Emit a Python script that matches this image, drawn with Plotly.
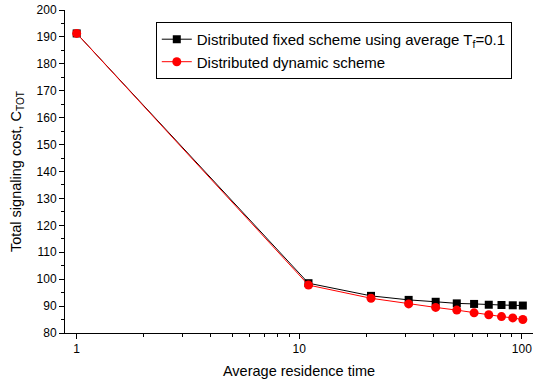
import plotly.graph_objects as go

x_vals = [1, 11, 21, 31, 41, 51, 61, 71, 81, 91, 101]
fixed_scheme = [191.3, 98.5, 93.8, 92.3, 91.6, 91.0, 90.8, 90.5, 90.4, 90.3, 90.2]
dynamic_scheme = [191.3, 97.8, 92.9, 90.8, 89.5, 88.5, 87.5, 86.8, 86.1, 85.6, 85.0]

fig = go.Figure()
fig.add_trace(go.Scatter(
    x=x_vals, y=fixed_scheme, mode="lines+markers",
    name="Distributed fixed scheme using average T<sub>f</sub>=0.1",
    line=dict(color="black", width=1),
    marker=dict(symbol="square", size=8, color="black"),
))
fig.add_trace(go.Scatter(
    x=x_vals, y=dynamic_scheme, mode="lines+markers",
    name="Distributed dynamic scheme",
    line=dict(color="red", width=1),
    marker=dict(symbol="circle", size=9, color="red"),
))

font_family = "Liberation Sans, Arial, sans-serif"
fig.update_layout(
    width=543, height=385,
    margin=dict(l=65, r=10, t=10, b=52),
    paper_bgcolor="white", plot_bgcolor="white",
    font=dict(family=font_family, size=12, color="black"),
    showlegend=True,
    legend=dict(
        x=0.194, y=0.963, xanchor="left", yanchor="top",
        bordercolor="black", borderwidth=1, bgcolor="white",
        font=dict(size=15), tracegroupgap=0, itemwidth=30,
    ),
)
fig.update_xaxes(
    type="log", range=[-0.0525, 2.05], automargin=False,
    title=dict(text="Average residence time", font=dict(size=14.5), standoff=10),
    showline=True, linecolor="black", linewidth=1,
    ticks="outside", ticklen=5, tickcolor="black",
    tickvals=[1, 10, 100], ticktext=["1", "10", "100"],
    showgrid=False, zeroline=False, mirror=False,
    minor=dict(ticks="outside", ticklen=3, tickcolor="black",
               tickvals=[2, 3, 4, 5, 6, 7, 8, 9, 20, 30, 40, 50, 60, 70, 80, 90],
               showgrid=False),
)
fig.update_yaxes(
    range=[80, 200], automargin=False,
    title=dict(text="Total signaling cost, C<sub>TOT</sub>", font=dict(size=14.5), standoff=11),
    showline=True, linecolor="black", linewidth=1,
    ticks="outside", ticklen=5, tickcolor="black",
    tick0=80, dtick=10,
    showgrid=False, zeroline=False, mirror=False,
    minor=dict(ticks="outside", ticklen=3, tickcolor="black", dtick=5, showgrid=False),
)

fig.write_html("out.html", config={"displayModeBar": False},
               post_script="document.body.style.margin='0';")
